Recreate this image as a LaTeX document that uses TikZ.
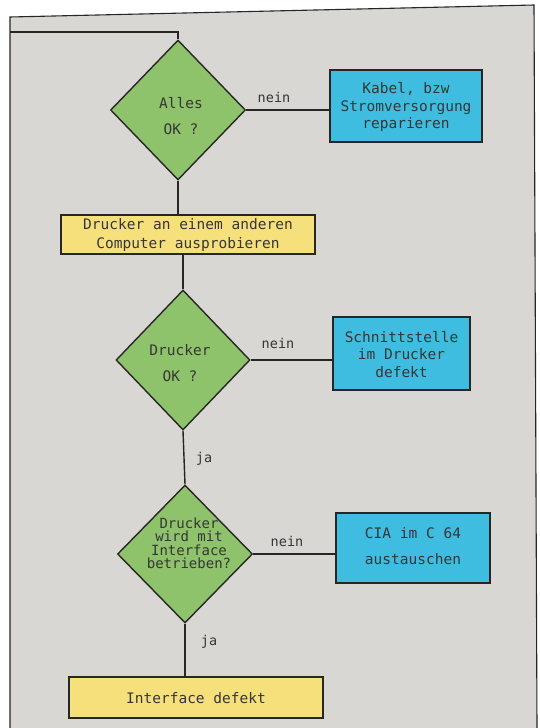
\documentclass[tikz,border=0pt]{standalone}
\usepackage{fontspec}
\setmonofont{DejaVu Sans Mono}
\usetikzlibrary{shapes.geometric}
\definecolor{bg}{HTML}{D9D7D4}
\definecolor{dgreen}{HTML}{8EC26B}
\definecolor{dblue}{HTML}{3EBDE0}
\definecolor{dyellow}{HTML}{F6E07C}
\definecolor{ink}{HTML}{262626}
\definecolor{txt}{HTML}{363636}
\begin{document}
\begin{tikzpicture}[x=1pt,y=-1pt,
  every node/.style={font=\ttfamily\fontsize{14.5}{17.5}\selectfont, text=txt},
  dia/.style={diamond, draw=ink, line width=1.4pt, fill=dgreen, inner sep=0pt},
  bluebox/.style={rectangle, draw=ink, line width=1.4pt, fill=dblue, inner sep=0pt},
  yelbox/.style={rectangle, draw=ink, line width=1.4pt, fill=dyellow, inner sep=0pt},
  conn/.style={draw=ink, line width=1.4pt},
  lbl/.style={font=\ttfamily\fontsize{13.5}{14}\selectfont}
]
\useasboundingbox (0,0) rectangle (539,728);
\fill[white] (0,0) rectangle (539,728);
% page frame
\draw[ink, line width=1.1pt, fill=bg] (10,728) -- (10,17) -- (534,5) -- (537,728);

% shapes
\node[dia, minimum width=135pt, minimum height=140pt] (d1) at (178,110) {};
\node[bluebox, minimum width=152pt, minimum height=72pt] (b1) at (406,106) {};
\node[yelbox, minimum width=254pt, minimum height=39pt] (y1) at (188,234.5) {};
\node[dia, minimum width=134pt, minimum height=140pt] (d2) at (183,360) {};
\node[bluebox, minimum width=137pt, minimum height=73pt] (b2) at (401.5,353.5) {};
\node[dia, minimum width=135pt, minimum height=138pt] (d3) at (185,554) {};
\node[bluebox, minimum width=154pt, minimum height=70pt] (b3) at (413,548) {};
\node[yelbox, minimum width=254pt, minimum height=41pt] (y2) at (196,697.5) {};

% texts
\node[align=center] (t1) at (181,116) {Alles\\[8.5pt]OK ?};
\node[align=center] (tb1) at (406,107) {Kabel, bzw\\Stromversorgung\\reparieren};
\node[align=center] (ty1) at (188,235) {Drucker an einem anderen\\[1.5pt]Computer ausprobieren};
\node[align=center] (t2) at (180,363.5) {Drucker\\[8.5pt]OK ?};
\node[align=center] (tb2) at (401.5,354.5) {Schnittstelle\\im Drucker\\defekt};
\node[align=center, font=\ttfamily\fontsize{14}{13.5}\selectfont] (t3) at (189,543.5) {Drucker\\wird mit\\Interface\\betrieben?};
\node[align=center] (tb3) at (413,546) {CIA im C 64\\[8.5pt]austauschen};
\node (ty2) at (196,698) {Interface defekt};

% connectors
\coordinate (in) at (10,32);
\draw[conn] (in) -- (in -| d1.north) -- (d1.north);
\draw[conn] (d1.east) -- (d1.east -| b1.west);
\draw[conn] (d1.south) -- (d1.south |- y1.north);
\draw[conn] (y1.south -| d2.north) -- (d2.north);
\draw[conn] (d2.east) -- (d2.east -| b2.west);
\draw[conn] (d2.south) -- (d3.north);
\draw[conn] (d3.east) -- (d3.east -| b3.west);
\draw[conn] (d3.south) -- (d3.south |- y2.north);

% labels
\node[lbl] (n1) at (274,97) {nein};
\node[lbl] (n2) at (278,343) {nein};
\node[lbl] (n3) at (287,541) {nein};
\node[lbl] (j1) at (204,459) {ja};
\node[lbl] (j2) at (209,642) {ja};
\end{tikzpicture}
\end{document}
